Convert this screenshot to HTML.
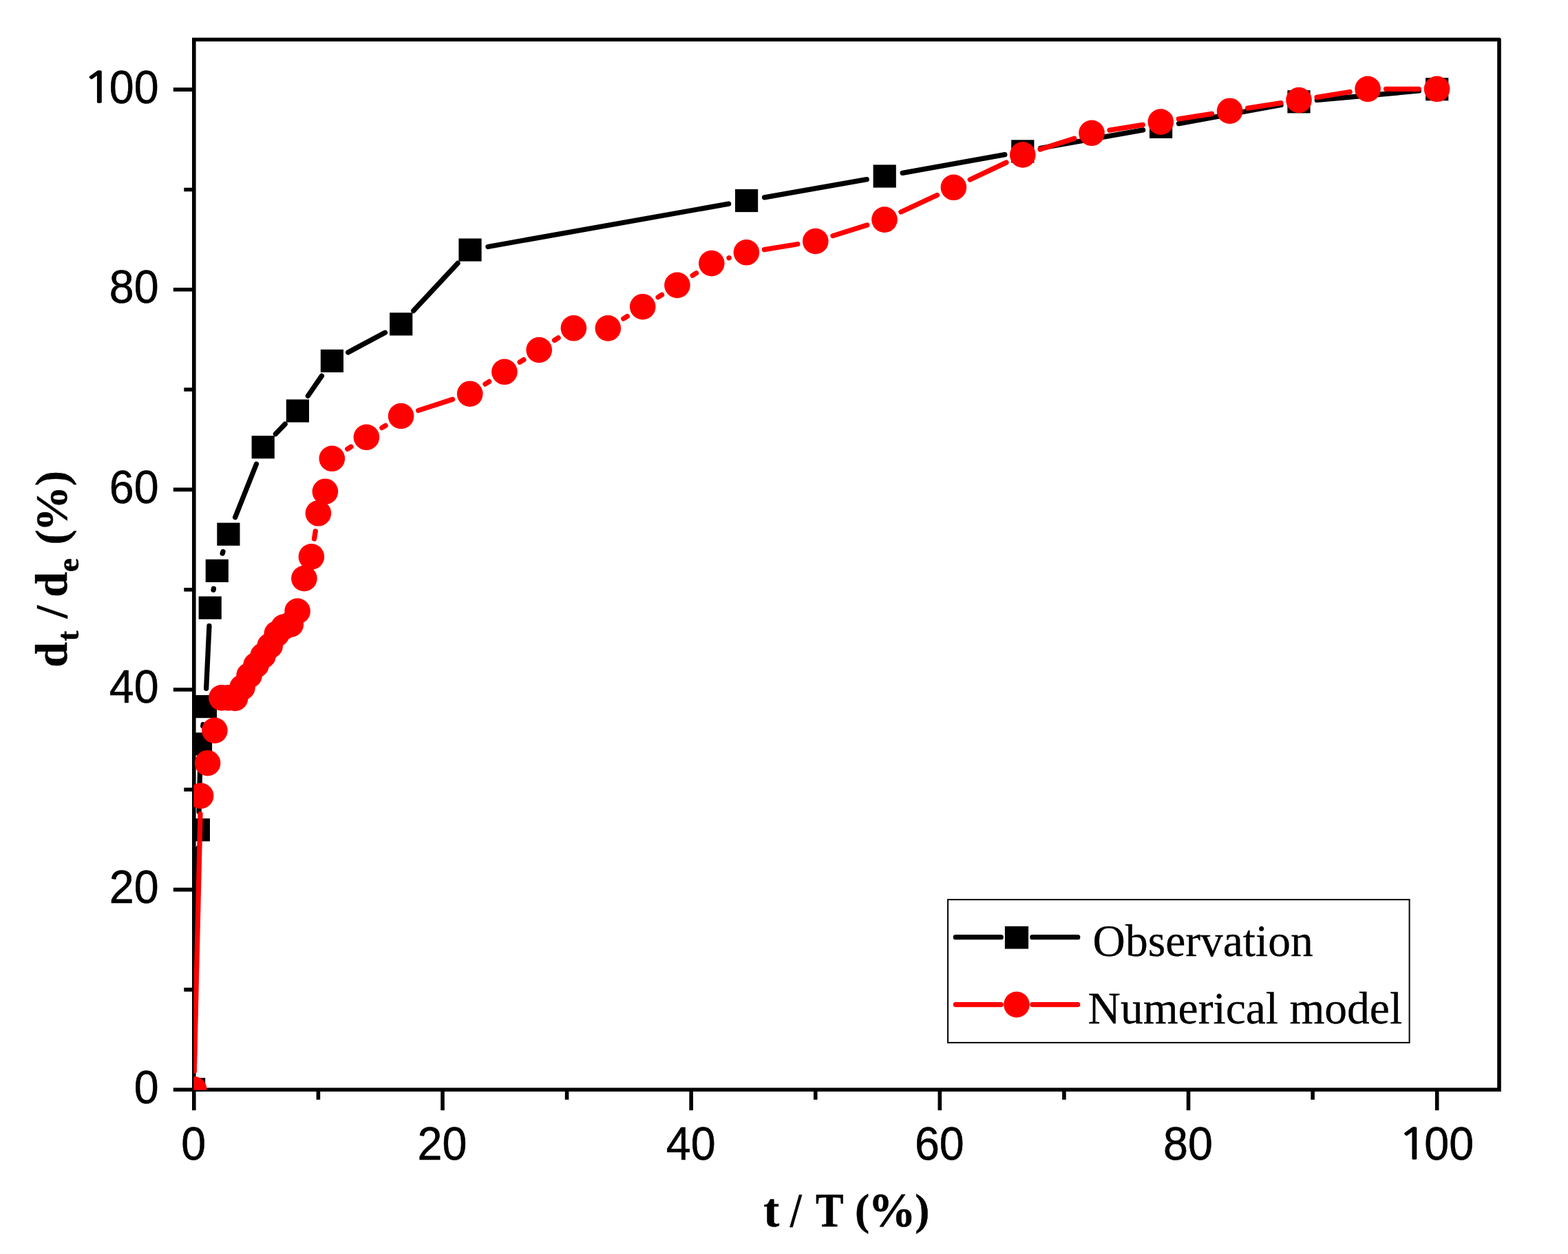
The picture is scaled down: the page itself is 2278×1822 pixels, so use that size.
<!DOCTYPE html>
<html lang="en"><head><meta charset="utf-8"><title>d_t / d_e versus t / T</title>
<style>html,body{margin:0;padding:0;background:#fff}body{width:2278px;height:1822px;overflow:hidden}svg{display:block}text{fill:#000}.tk{font-family:"Liberation Sans",Arial,sans-serif;font-size:68px;stroke:#000;stroke-width:0.6px;stroke-linejoin:round}.one{font-family:"NanumGothic","Liberation Sans",sans-serif;font-size:61.5px;stroke:#000;stroke-width:1.6px;stroke-linejoin:miter}.lg{font-family:"Liberation Serif","Times New Roman",serif;font-size:65.5px;stroke:#000;stroke-width:0.3px}.ti{font-family:"Liberation Serif","Times New Roman",serif;font-weight:bold;font-size:66px;stroke:#000;stroke-width:0.5px}</style></head><body>
<svg width="2278" height="1822" viewBox="0 0 2278 1822">
<rect width="2278" height="1822" fill="#fff"/>
<defs><clipPath id="plot"><rect x="281.4" y="57.1" width="1897" height="1526.7"/></clipPath></defs>
<g stroke="#000" stroke-width="5.6" fill="none" stroke-linecap="butt">
<path d="M279 57.5H2178V1586" stroke-linejoin="round"/>
<path d="M281.8 57.5V1583.2H2178" stroke-linejoin="miter"/>
<path d="M281.8 1583.2H251.8M281.8 1583.2V1613.2M281.8 1437.9H267.3M462.39 1583.2V1597.7M281.8 1292.59H251.8M642.98 1583.2V1613.2M281.8 1147.29H267.3M823.57 1583.2V1597.7M281.8 1001.98H251.8M1004.16 1583.2V1613.2M281.8 856.68H267.3M1184.75 1583.2V1597.7M281.8 711.37H251.8M1365.34 1583.2V1613.2M281.8 566.07H267.3M1545.93 1583.2V1597.7M281.8 420.76H251.8M1726.52 1583.2V1613.2M281.8 275.46H267.3M1907.11 1583.2V1597.7M281.8 130.15H251.8M2087.7 1583.2V1613.2"/>
</g>
<text class="tk" transform="translate(230.7 1602.7) scale(0.95 1)" text-anchor="end">0</text>
<text class="tk" transform="translate(230.7 1312.09) scale(0.95 1)" text-anchor="end">20</text>
<text class="tk" transform="translate(230.7 1021.48) scale(0.95 1)" text-anchor="end">40</text>
<text class="tk" transform="translate(230.7 730.87) scale(0.95 1)" text-anchor="end">60</text>
<text class="tk" transform="translate(230.7 440.26) scale(0.95 1)" text-anchor="end">80</text>
<text class="tk" transform="translate(230.7 149.65) scale(0.95 1)" text-anchor="end"><tspan class="one" x="-70.2" dy="-0.8" textLength="46" lengthAdjust="spacingAndGlyphs">1</tspan><tspan x="0" dy="0.8">00</tspan></text>
<text class="tk" transform="translate(281.3 1684.6) scale(0.95 1)" text-anchor="middle">0</text>
<text class="tk" transform="translate(642.48 1684.6) scale(0.95 1)" text-anchor="middle">20</text>
<text class="tk" transform="translate(1003.66 1684.6) scale(0.95 1)" text-anchor="middle">40</text>
<text class="tk" transform="translate(1364.84 1684.6) scale(0.95 1)" text-anchor="middle">60</text>
<text class="tk" transform="translate(1726.02 1684.6) scale(0.95 1)" text-anchor="middle">80</text>
<text class="tk" transform="translate(2141.1 1684.6) scale(0.95 1)" text-anchor="end"><tspan class="one" x="-70.2" dy="-0.8" textLength="46" lengthAdjust="spacingAndGlyphs">1</tspan><tspan x="0" dy="0.8">00</tspan></text>
<text class="ti" y="1782" style="font-size:69px"><tspan x="1109.2">t</tspan> <tspan x="1148" textLength="16.5" lengthAdjust="spacingAndGlyphs">/</tspan> <tspan x="1185" textLength="39.5" lengthAdjust="spacingAndGlyphs">T</tspan> <tspan x="1242" font-size="63.5" dy="-3">(</tspan><tspan x="1261.4" dy="3">%</tspan><tspan x="1329.3" font-size="63.5" dy="-3">)</tspan></text>
<text class="ti" transform="translate(97 969.8) rotate(-90)">d<tspan font-size="45" dy="17" dx="1.5">t</tspan><tspan dy="-17" dx="1.8"> /</tspan><tspan dx="-4.3"> d</tspan><tspan font-size="45" dy="17">e</tspan><tspan dy="-17" dx="3"> (</tspan><tspan dx="-2.4">%)</tspan></text>
<g clip-path="url(#plot)">
<path d="M282.08 1556.3L287.92 1232.2 M289.06 1179.41L290.84 1107.39 M294.82 1054.81L295.08 1052.79 M299.65 1000.23L303.95 909.47 M310.07 857.15L310.43 855.25 M323.18 804.1L324.02 801.4 M341.65 751.67L372.45 674.23 M400.41 630.58L414.19 616.12 M447.37 575.26L467.43 546.14 M505.69 511.98L559.41 483.32 M600.68 451.57L665.02 382.43 M708.99 358.47L1058.61 296.13 M1110.6 286.9L1259.2 260.6 M1311.18 251.32L1459.82 224.58 M1511.79 215.29L1660.61 188.91 M1712.57 179.57L1861.03 152.53 M1913.29 145.42L2061.41 131.98" stroke="#000" stroke-width="7.3" stroke-linecap="round" fill="none"/>
<g fill="#000"><rect x="265" y="1566.1" width="33.2" height="33.2"/><rect x="271.8" y="1189.2" width="33.2" height="33.2"/><rect x="274.9" y="1064.4" width="33.2" height="33.2"/><rect x="281.8" y="1010" width="33.2" height="33.2"/><rect x="288.6" y="866.5" width="33.2" height="33.2"/><rect x="298.7" y="812.7" width="33.2" height="33.2"/><rect x="315.3" y="759.6" width="33.2" height="33.2"/><rect x="365.6" y="633.1" width="33.2" height="33.2"/><rect x="415.8" y="580.4" width="33.2" height="33.2"/><rect x="465.8" y="507.8" width="33.2" height="33.2"/><rect x="566.1" y="454.3" width="33.2" height="33.2"/><rect x="666.4" y="346.5" width="33.2" height="33.2"/><rect x="1068" y="274.9" width="33.2" height="33.2"/><rect x="1268.6" y="239.4" width="33.2" height="33.2"/><rect x="1469.2" y="203.3" width="33.2" height="33.2"/><rect x="1670" y="167.7" width="33.2" height="33.2"/><rect x="1870.4" y="131.2" width="33.2" height="33.2"/><rect x="2071.1" y="113" width="33.2" height="33.2"/></g>
<path d="M282.22 1556.31L290.98 1182.69 M456.53 782.83L458.27 771.87 M504.75 652.41L509.95 649.19 M554.9 621.49L560.1 618.31 M607.72 596.39L657.58 580.31 M704.98 558.04L710.62 554.46 M755.21 526.19L760.89 522.61 M805.52 494.4L811.08 490.9 M905.75 463L911.25 459.6 M956.1 431.73L961.5 428.37 M1006.16 400.21L1011.54 396.79 M1059 374.73L1059.2 374.67 M1110.46 362.57L1158.74 354.73 M1209.99 342.61L1259.81 326.99 M1308.93 307.95L1361.47 283.45 M1409.27 261.03L1461.93 236.17 M1510.98 216.96L1560.82 201.24 M1612.06 189.09L1660.24 181.31 M1712.37 172.97L1760.53 165.33 M1812.68 157.12L1860.92 149.58 M1913.06 141.28L1961.04 133.52 M2013.5 129.3L2061.2 129.3" stroke="#f00" stroke-width="7.3" stroke-linecap="round" fill="none"/>
<g fill="#f00"><circle cx="281.6" cy="1582.7" r="18.8"/><circle cx="291.6" cy="1156.3" r="18.8"/><circle cx="301.6" cy="1108.7" r="18.8"/><circle cx="311.9" cy="1061.4" r="18.8"/><circle cx="321.8" cy="1013.9" r="18.8"/><circle cx="331.8" cy="1013.9" r="18.8"/><circle cx="341.6" cy="1014.5" r="18.8"/><circle cx="352" cy="998.8" r="18.8"/><circle cx="362.1" cy="981.3" r="18.8"/><circle cx="372.1" cy="966.3" r="18.8"/><circle cx="382.1" cy="952.7" r="18.8"/><circle cx="392.2" cy="938.3" r="18.8"/><circle cx="402.2" cy="920.9" r="18.8"/><circle cx="412.2" cy="911" r="18.8"/><circle cx="422.3" cy="907.2" r="18.8"/><circle cx="432.1" cy="888" r="18.8"/><circle cx="441.9" cy="840.5" r="18.8"/><circle cx="452.4" cy="808.9" r="18.8"/><circle cx="462.4" cy="745.8" r="18.8"/><circle cx="472.4" cy="714.2" r="18.8"/><circle cx="482.3" cy="666.3" r="18.8"/><circle cx="532.4" cy="635.3" r="18.8"/><circle cx="582.6" cy="604.5" r="18.8"/><circle cx="682.7" cy="572.2" r="18.8"/><circle cx="732.9" cy="540.3" r="18.8"/><circle cx="783.2" cy="508.5" r="18.8"/><circle cx="833.4" cy="476.8" r="18.8"/><circle cx="883.3" cy="476.9" r="18.8"/><circle cx="933.7" cy="445.7" r="18.8"/><circle cx="983.9" cy="414.4" r="18.8"/><circle cx="1033.8" cy="382.6" r="18.8"/><circle cx="1084.4" cy="366.8" r="18.8"/><circle cx="1184.8" cy="350.5" r="18.8"/><circle cx="1285" cy="319.1" r="18.8"/><circle cx="1385.4" cy="272.3" r="18.8"/><circle cx="1485.8" cy="224.9" r="18.8"/><circle cx="1586" cy="193.3" r="18.8"/><circle cx="1686.3" cy="177.1" r="18.8"/><circle cx="1786.6" cy="161.2" r="18.8"/><circle cx="1887" cy="145.5" r="18.8"/><circle cx="1987.1" cy="129.3" r="18.8"/><circle cx="2087.6" cy="129.3" r="18.8"/></g>
</g>
<rect x="1377.1" y="1307.1" width="670.5" height="207.8" fill="#fff" stroke="#000" stroke-width="2"/>
<path d="M1388.35 1361.7H1454.25M1499.85 1361.7H1565.75" stroke="#000" stroke-width="7.3" stroke-linecap="round" fill="none"/>
<rect x="1459.9" y="1345.8" width="34.2" height="32.8" fill="#000"/>
<path d="M1388.35 1459.6H1454.25M1499.85 1459.6H1565.75" stroke="#f00" stroke-width="7.3" stroke-linecap="round" fill="none"/>
<circle cx="1477" cy="1459.6" r="18.8" fill="#f00"/>
<text class="lg" x="1587.6" y="1389">Observation</text>
<text class="lg" x="1580.6" y="1487">Numerical model</text>
</svg></body></html>
